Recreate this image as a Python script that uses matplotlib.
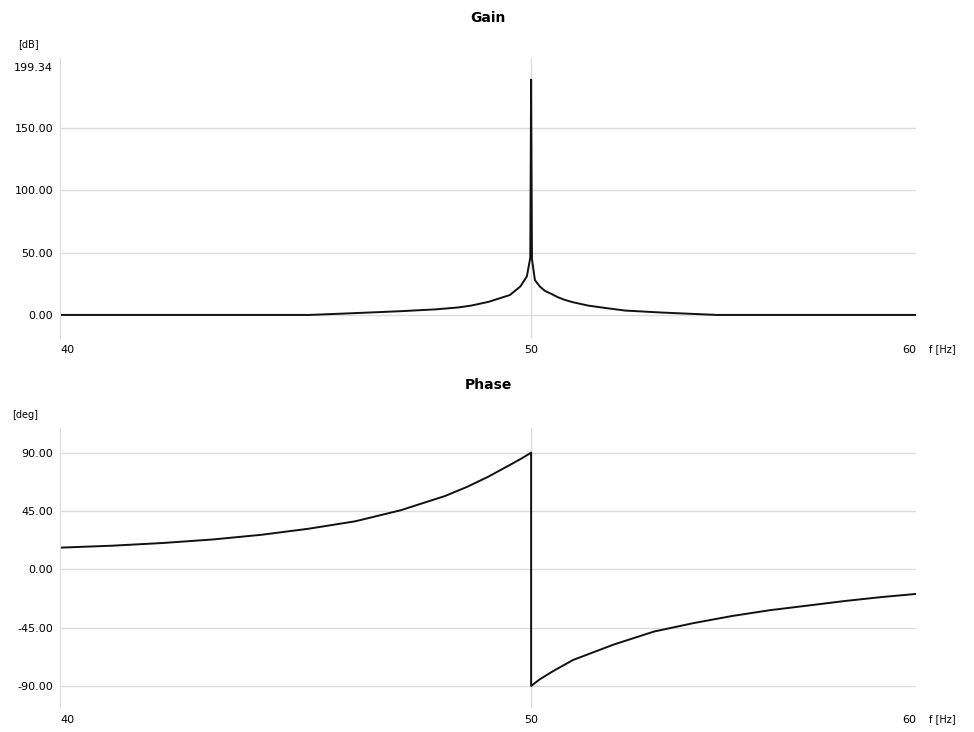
import matplotlib
matplotlib.use('Agg')
import matplotlib.pyplot as plt
from matplotlib.ticker import NullLocator

# values
gain_freq = [40, 45.0, 45.7, 47.0, 47.8, 48.3, 48.6, 49.0, 49.5, 49.75, 49.9, 49.98, 50.0,
             50.02, 50.09, 50.21, 50.33, 50.5, 50.64, 50.81, 51.0, 51.37, 51.83, 52.28, 53.2, 54.6, 60]
gain_db = [0, 0, 1, 3, 4.5, 6, 7.5, 10.5, 16, 23, 31, 46, 189,
           45, 28, 22.7, 19.3, 16.6, 14.2, 12, 10.2, 7.5, 5.4, 3.5, 1.9, 0, 0]

phase_freq = [40, 41, 42, 43, 44, 45, 46, 47, 48, 48.5, 49, 49.5, 49.8, 50,
              50, 50.2, 50.5, 51, 52, 53, 54, 55, 56, 57, 58, 59, 60]
phase_deg = [16.7, 18.2, 20.3, 23, 26.6, 31.3, 37, 45.5, 56.5, 63.5, 71.5, 80.5, 86, 90,
             -90, -85, -79, -70, -58, -48, -41.5, -36, -31.5, -28, -24.5, -21.5, -19]

gain_ticks = [0, 50, 100, 150, 199.34]
gain_grid = [0, 50, 100, 150]
phase_ticks = [-90, -45, 0, 45, 90]
freq_ticks = [40, 50, 60]

grid_col = '#dcdcdc'

fig = plt.figure(figsize=(9.74, 7.32), dpi=100)
ax1 = fig.add_axes([0.0616, 0.5383, 0.8789, 0.3825])
ax2 = fig.add_axes([0.0616, 0.0328, 0.8789, 0.3825])


def style(ax, yticks, grid, ylim, title, unit, title_y):
    ax.set_xscale('log')
    ax.set_xlim(40, 60)
    ax.set_ylim(*ylim)
    for g in grid:
        ax.axhline(g, color=grid_col, lw=1, zorder=0)
    ax.axvline(50, color=grid_col, lw=1, zorder=0)
    for s in ['top', 'right', 'bottom']:
        ax.spines[s].set_visible(False)
    ax.spines['left'].set_color(grid_col)
    ax.set_yticks(yticks)
    ax.set_yticklabels(['%.2f' % v for v in yticks], fontsize=8)
    ax.set_xticks(freq_ticks)
    ax.xaxis.set_minor_locator(NullLocator())
    ax.set_xticklabels([str(v) for v in freq_ticks], fontsize=8)
    labs = ax.get_xticklabels()
    labs[0].set_ha('left')
    labs[2].set_ha('right')
    ax.tick_params(length=0, pad=5)
    fig.text(0.5012, title_y, title, fontsize=10, fontweight='bold', ha='center', va='center')
    ax.text(-0.025, 1.03, unit, transform=ax.transAxes, fontsize=7, ha='right', va='bottom')
    ax.text(1.015, -0.022, 'f [Hz]', transform=ax.transAxes, fontsize=7, ha='left', va='top')


style(ax1, gain_ticks, gain_grid, (-18.5, 206.4), 'Gain', '[dB]', 0.975)
ax1.plot(gain_freq, gain_db, color='#111111', lw=1.4)

style(ax2, phase_ticks, phase_ticks, (-107, 109), 'Phase', '[deg]', 0.474)
ax2.plot(phase_freq, phase_deg, color='#111111', lw=1.4)

fig.savefig('out.png', dpi=100)
